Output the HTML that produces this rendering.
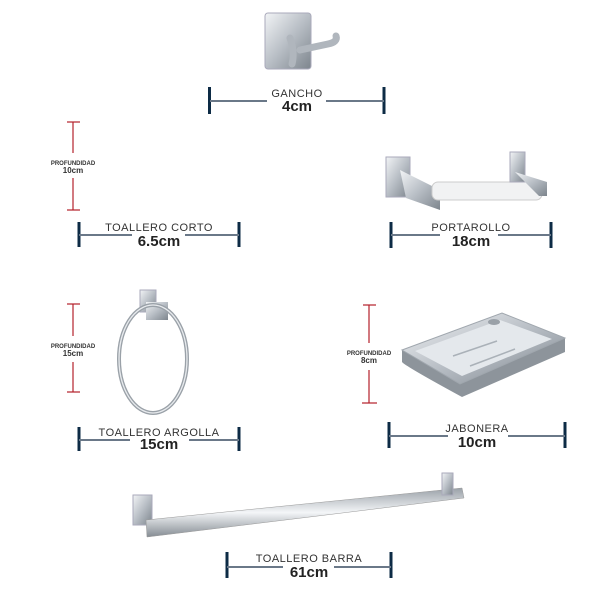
<!DOCTYPE html>
<html><head><meta charset="utf-8"><style>
html,body{margin:0;padding:0;background:#fff}
svg{display:block}
text{font-family:"Liberation Sans",sans-serif;text-anchor:middle}
.n{font-size:11px;fill:#333;letter-spacing:0.5px}
.b{font-size:15px;font-weight:bold;fill:#222}
.pn{font-size:6px;font-weight:bold;fill:#333}
.pb{font-size:8px;font-weight:bold;fill:#333}
.t{stroke:#0d2b45;stroke-width:3}
.l{stroke:#6a7888;stroke-width:2}
.r{stroke:#b3202a;stroke-width:1.2}
</style></head><body>
<svg width="600" height="600" viewBox="0 0 600 600" xmlns="http://www.w3.org/2000/svg">
<defs>
<linearGradient id="m" x1="0" y1="0" x2="1" y2="1"><stop offset="0" stop-color="#f2f4f6"/><stop offset="0.5" stop-color="#b8bec5"/><stop offset="1" stop-color="#7d858d"/></linearGradient>
<linearGradient id="bar" x1="0" y1="0" x2="0" y2="1"><stop offset="0" stop-color="#9aa1a8"/><stop offset="0.5" stop-color="#f4f6f8"/><stop offset="1" stop-color="#858c93"/></linearGradient>
</defs>
<!-- gancho -->
<rect x="265" y="13" width="46" height="56" rx="3" fill="url(#m)" stroke="#aab"/>
<path d="M290 38 q5 14 2 26 M300 50 l28 -6 q10 -2 8 -8" stroke="#b0b6bd" stroke-width="7" fill="none" stroke-linecap="round"/>
<line class="t" x1="209.5" y1="87" x2="209.5" y2="114"/><line class="t" x1="384" y1="87" x2="384" y2="114"/>
<line class="l" x1="210" y1="101" x2="267" y2="101"/><line class="l" x1="326" y1="101" x2="384" y2="101"/>
<text class="n" x="297" y="97">GANCHO</text><text class="b" x="297" y="111">4cm</text>
<!-- portarollo -->
<rect x="386" y="157" width="24" height="40" fill="url(#m)" stroke="#aab"/>
<path d="M400 170 l40 20 v20 l-34 -12z" fill="url(#m)"/>
<rect x="432" y="182" width="110" height="18" rx="6" fill="#f1f2f3" stroke="#ccc"/>
<rect x="510" y="152" width="15" height="30" fill="url(#m)" stroke="#aab"/>
<path d="M515 172 l32 10 v14 l-8 0z" fill="url(#m)"/>
<line class="t" x1="391" y1="222" x2="391" y2="248"/><line class="t" x1="551" y1="222" x2="551" y2="248"/>
<line class="l" x1="391" y1="235" x2="440" y2="235"/><line class="l" x1="498" y1="235" x2="551" y2="235"/>
<text class="n" x="471" y="231">PORTAROLLO</text><text class="b" x="471" y="246">18cm</text>
<!-- toallero corto -->
<line class="r" x1="73" y1="122" x2="73" y2="153"/><line class="r" x1="73" y1="178" x2="73" y2="210"/>
<line class="r" x1="67" y1="122" x2="80" y2="122" stroke-width="1.6"/><line class="r" x1="67" y1="210" x2="80" y2="210" stroke-width="2"/>
<text class="pn" x="73" y="165">PROFUNDIDAD</text><text class="pb" x="73" y="173">10cm</text>
<line class="t" x1="79" y1="222" x2="79" y2="247"/><line class="t" x1="239" y1="222" x2="239" y2="247"/>
<line class="l" x1="79" y1="235" x2="132" y2="235"/><line class="l" x1="185" y1="235" x2="239" y2="235"/>
<text class="n" x="159" y="231">TOALLERO CORTO</text><text class="b" x="159" y="246">6.5cm</text>
<!-- argolla -->
<rect x="140" y="290" width="16" height="22" fill="url(#m)" stroke="#aab"/>
<rect x="146" y="302" width="22" height="18" fill="url(#m)"/>
<ellipse cx="153" cy="359" rx="34" ry="54" fill="none" stroke="#9aa1a8" stroke-width="4"/>
<ellipse cx="153" cy="359" rx="34" ry="54" fill="none" stroke="#e8ebee" stroke-width="1.3"/>
<line class="r" x1="73" y1="304" x2="73" y2="336"/><line class="r" x1="73" y1="362" x2="73" y2="392"/>
<line class="r" x1="67" y1="304" x2="80" y2="304" stroke-width="1.6"/><line class="r" x1="67" y1="392" x2="80" y2="392" stroke-width="2"/>
<text class="pn" x="73" y="348">PROFUNDIDAD</text><text class="pb" x="73" y="356">15cm</text>
<line class="t" x1="79" y1="427" x2="79" y2="451"/><line class="t" x1="239" y1="427" x2="239" y2="451"/>
<line class="l" x1="79" y1="440" x2="130" y2="440"/><line class="l" x1="189" y1="440" x2="239" y2="440"/>
<text class="n" x="159" y="436">TOALLERO ARGOLLA</text><text class="b" x="159" y="449">15cm</text>
<!-- jabonera -->
<path d="M402 350 L460 384 L565 338 L565 352 L462 397 Q405 366 402 362 Z" fill="#8d949b"/>
<path d="M402 350 L502 313 L565 338 L460 384 Z" fill="url(#m)" stroke="#a0a7ae"/>
<path d="M415 351 L500 320 L552 339 L462 376 Z" fill="#e4e8ec"/>
<line x1="453" y1="356" x2="497" y2="341" stroke="#aab1b8" stroke-width="1.5"/>
<line x1="470" y1="366" x2="515" y2="349" stroke="#aab1b8" stroke-width="1.5"/>
<ellipse cx="494" cy="322" rx="6" ry="3" fill="#9aa1a8"/>
<line class="r" x1="369" y1="305" x2="369" y2="343"/><line class="r" x1="369" y1="370" x2="369" y2="403"/>
<line class="r" x1="363" y1="305" x2="376" y2="305" stroke-width="1.6"/><line class="r" x1="362" y1="403" x2="377" y2="403" stroke-width="2"/>
<text class="pn" x="369" y="355">PROFUNDIDAD</text><text class="pb" x="369" y="363">8cm</text>
<line class="t" x1="389" y1="422" x2="389" y2="448"/><line class="t" x1="565" y1="422" x2="565" y2="448"/>
<line class="l" x1="389" y1="436" x2="448" y2="436"/><line class="l" x1="508" y1="436" x2="565" y2="436"/>
<text class="n" x="477" y="432">JABONERA</text><text class="b" x="477" y="447">10cm</text>
<!-- barra -->
<rect x="133" y="495" width="19" height="30" fill="url(#m)" stroke="#aab"/>
<path d="M146 520 L462 488 L464 498 L147 537 Z" fill="url(#bar)" stroke="#999" stroke-width="0.5"/>
<rect x="442" y="473" width="11" height="22" fill="url(#m)" stroke="#aab"/>
<line class="t" x1="227" y1="552" x2="227" y2="578"/><line class="t" x1="391" y1="552" x2="391" y2="578"/>
<line class="l" x1="227" y1="567" x2="283" y2="567"/><line class="l" x1="334" y1="567" x2="391" y2="567"/>
<text class="n" x="309" y="562">TOALLERO BARRA</text><text class="b" x="309" y="577">61cm</text>
</svg>
</body></html>
